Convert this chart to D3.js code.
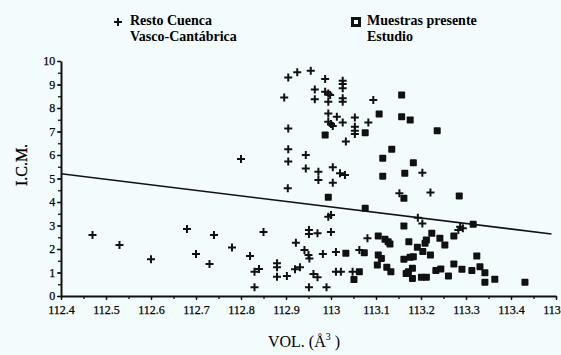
<!DOCTYPE html>
<html>
<head>
<meta charset="utf-8">
<script src="https://cdn.jsdelivr.net/npm/d3@7"></script>
<style>
  html, body { margin: 0; padding: 0; background: #f2fcfd; }
  svg { display: block; }
  text { font-family: "Liberation Serif", "Times New Roman", serif; fill: #000; }
</style>
</head>
<body>
<svg id="chart"></svg>
<script>
  // Resto Cuenca Vasco-Cantábrica (crosses)
  var restoX = [112.47, 112.53, 112.60, 112.68, 112.70, 112.74, 112.73, 112.78, 112.82, 112.85,
    112.83, 112.84, 112.83, 112.88, 112.88, 112.88, 112.80, 112.905, 112.925, 112.955,
    112.987, 113.026, 113.026, 113.026, 112.896, 112.964, 112.964, 112.987, 112.994, 112.998,
    112.994, 113.026, 113.026, 113.094, 112.994, 113.013, 112.994, 113.0, 113.004, 113.026,
    113.053, 113.083, 113.053, 113.053, 113.053, 112.905, 113.033, 112.905, 112.944, 112.905,
    112.944, 112.972, 113.004, 113.02, 113.031, 112.972, 113.004, 112.904, 113.152, 112.994,
    113.0, 113.193, 112.951, 112.951, 112.97, 113.0, 112.922, 113.081, 112.941, 112.95,
    112.952, 112.982, 113.011, 113.063, 112.902, 112.92, 112.931, 112.961, 112.97, 113.011,
    113.022, 113.048, 112.951, 112.99, 113.203, 113.221, 113.203, 113.287, 113.293, 113.283];
  var restoY = [2.6, 2.17, 1.56, 2.85, 1.79, 2.6, 1.36, 2.06, 1.7, 2.72,
    1.03, 1.15, 0.37, 1.39, 1.22, 0.82, 5.83, 9.3, 9.52, 9.59,
    9.23, 9.16, 9.02, 8.84, 8.45, 8.79, 8.37, 8.69, 8.62, 8.55,
    8.27, 8.41, 8.27, 8.34, 7.77, 7.63, 7.42, 7.32, 7.23, 7.38,
    7.6, 7.38, 7.2, 7.03, 6.89, 7.13, 6.57, 6.24, 6.0, 5.72,
    5.43, 5.29, 5.48, 5.22, 5.15, 4.94, 4.82, 4.58, 4.37, 3.37,
    3.45, 3.33, 2.81, 2.64, 2.67, 2.72, 2.27, 2.46, 1.96, 1.74,
    1.6, 1.79, 1.87, 1.96, 0.85, 1.14, 1.22, 0.94, 0.8, 1.03,
    1.03, 1.03, 0.37, 0.37, 5.25, 4.4, 3.09, 2.95, 2.88, 2.81];

  // Muestras presente Estudio (squares)
  var muestrasX = [113.157, 113.107, 113.157, 113.176, 113.236, 113.076, 112.987, 113.135, 113.115, 113.183,
    113.164, 113.115, 112.994, 113.162, 113.285, 113.076, 113.162, 113.316, 113.105, 113.12,
    113.131, 113.127, 113.173, 113.192, 113.204, 113.224, 113.212, 113.209, 113.242, 113.253,
    113.273, 113.221, 113.033, 113.074, 113.105, 113.112, 113.103, 113.124, 113.133, 113.162,
    113.176, 113.183, 113.172, 113.181, 113.181, 113.063, 113.051, 113.201, 113.212, 113.233,
    113.244, 113.261, 113.273, 113.291, 113.313, 113.331, 113.342, 113.342, 113.364, 113.431,
    113.324, 113.167];
  var muestrasY = [8.55, 7.74, 7.63, 7.49, 7.03, 6.95, 6.85, 6.24, 5.86, 5.67,
    5.22, 5.1, 4.2, 4.16, 4.26, 3.73, 2.98, 3.05, 2.55, 2.41,
    2.21, 2.31, 2.31, 2.07, 1.89, 2.67, 2.38, 2.24, 2.46, 2.17,
    2.55, 1.74, 1.82, 1.84, 1.74, 1.6, 1.32, 1.22, 1.03, 1.56,
    1.65, 1.67, 1.03, 1.18, 0.75, 1.03, 0.7, 0.8, 0.8, 1.08,
    1.15, 0.85, 1.36, 1.14, 1.08, 1.25, 0.99, 0.58, 0.71, 0.58,
    1.7, 0.96];

  // fitted line end points
  var fitX = [112.4, 113.49];
  var fitY = [5.2, 2.64];

  var xTicks = [112.4, 112.5, 112.6, 112.7, 112.8, 112.9, 113, 113.1, 113.2, 113.3, 113.4, 113.5];
  var yTicks = [0, 1, 2, 3, 4, 5, 6, 7, 8, 9, 10];

  var width = 561, height = 355;
  var svg = d3.select('#chart')
  .attr("width", width)
  .attr("height", height);

  var x = d3.scaleLinear().domain([112.4, 113.5]).range([61, 556]);
  var y = d3.scaleLinear().domain([0, 10]).range([296, 61]);

  // minor ticks
  svg.append("g")
  .attr("transform", "translate(0,296)")
  .call(d3.axisBottom(x).tickValues(d3.range(0, 23).map(function(i) { return 112.4 + i * 0.05; }))
    .tickSize(3).tickFormat(""))
  .call(function(g) { g.select(".domain").remove(); });

  svg.append("g")
  .attr("transform", "translate(61,0)")
  .call(d3.axisLeft(y).tickValues(d3.range(0, 21).map(function(i) { return i * 0.5; }))
    .tickSize(3).tickFormat(""))
  .call(function(g) { g.select(".domain").remove(); });

  // main axes
  var xAxis = svg.append("g")
  .attr("transform", "translate(0,296)")
  .call(d3.axisBottom(x).tickValues(xTicks).tickSize(4).tickSizeOuter(0)
    .tickFormat(function(d) { return String(+d.toFixed(1)); }));

  var yAxis = svg.append("g")
  .attr("transform", "translate(61,0)")
  .call(d3.axisLeft(y).tickValues(yTicks).tickSize(4).tickSizeOuter(0));

  svg.selectAll(".tick line").attr("stroke", "#111").attr("stroke-width", 1.3);
  svg.selectAll(".domain").attr("stroke", "#111").attr("stroke-width", 2);
  xAxis.selectAll("text").attr("font-size", 12).attr("dy", "0.95em")
    .attr("fill", "#000").attr("stroke", "#000").attr("stroke-width", 0.25)
    .style("font-family", "Liberation Serif");
  yAxis.selectAll("text").attr("font-size", 12).attr("dx", "0.1em")
    .attr("fill", "#000").attr("stroke", "#000").attr("stroke-width", 0.25)
    .style("font-family", "Liberation Serif");

  // fitted line
  svg.append("line")
  .attr("x1", x(fitX[0])).attr("y1", y(fitY[0]))
  .attr("x2", x(fitX[1])).attr("y2", y(fitY[1]))
  .attr("stroke", "#111").attr("stroke-width", 1.6);

  var cross = "M-4,0H4M0,-4V4";

  svg.append("g").selectAll("path")
  .data(restoX)
  .enter()
  .append("path")
  .attr("d", cross)
  .attr("transform", function(d, i) { return "translate(" + x(d) + "," + y(restoY[i]) + ")"; })
  .attr("stroke", "#111").attr("stroke-width", 2).attr("fill", "none");

  svg.append("g").selectAll("rect")
  .data(muestrasX)
  .enter()
  .append("rect")
  .attr("x", function(d) { return x(d) - 3.5; })
  .attr("y", function(d, i) { return y(muestrasY[i]) - 3.5; })
  .attr("width", 7).attr("height", 7)
  .attr("rx", 0.8)
  .attr("fill", "#111");

  // legend
  svg.append("path").attr("d", cross)
  .attr("transform", "translate(118,22)")
  .attr("stroke", "#111").attr("stroke-width", 2);
  var lg1 = svg.append("text").attr("x", 130).attr("y", 25)
  .attr("font-size", 14).attr("font-weight", "bold");
  lg1.append("tspan").attr("x", 130).text("Resto Cuenca");
  lg1.append("tspan").attr("x", 130).attr("dy", 16).text("Vasco-Cantábrica");

  svg.append("rect").attr("x", 351).attr("y", 17).attr("width", 10).attr("height", 10).attr("fill", "#111");
  svg.append("rect").attr("x", 354).attr("y", 20).attr("width", 4).attr("height", 4).attr("fill", "#f2fcfd");
  var lg2 = svg.append("text").attr("x", 367).attr("y", 25)
  .attr("font-size", 14).attr("font-weight", "bold");
  lg2.append("tspan").attr("x", 367).text("Muestras presente");
  lg2.append("tspan").attr("x", 367).attr("dy", 16).text("Estudio");

  // axis titles
  var xt = svg.append("text").attr("x", 304).attr("y", 347)
  .attr("text-anchor", "middle").attr("font-size", 16);
  xt.append("tspan").text("VOL. (Å");
  xt.append("tspan").attr("font-size", 10).attr("dy", -7).text("3");
  xt.append("tspan").attr("dy", 7).text(" )");

  svg.append("text")
  .attr("transform", "translate(27,165) rotate(-90)")
  .attr("text-anchor", "middle").attr("font-size", 16)
  .attr("stroke", "#000").attr("stroke-width", 0.3)
  .text("I.C.M.");
</script>
</body>
</html>
